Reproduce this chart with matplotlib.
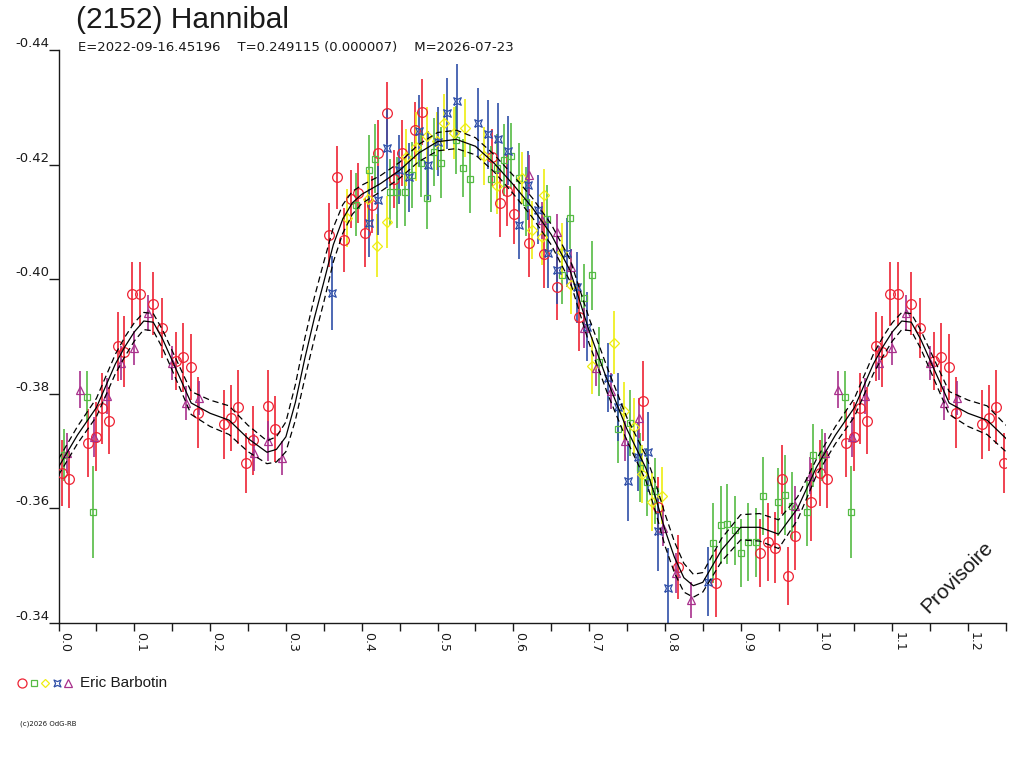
import numpy as np
import matplotlib
matplotlib.use("Agg")
import matplotlib.pyplot as plt

# colours of the five sessions
C_RED = "#EE2233"
C_GREEN = "#55BB44"
C_YELLOW = "#EEEE11"
C_BLUE = "#2F4FA8"
C_PURPLE = "#A8308C"

TITLE = "(2152) Hannibal"
SUBTITLE = "E=2022-09-16.45196    T=0.249115 (0.000007)    M=2026-07-23"
OBSERVER = "Eric Barbotin"

# fitted curve (phase 0..1) and its half width
CURVE_PHASE = [0.000, 0.025, 0.050, 0.075, 0.0875, 0.100, 0.1125, 0.125, 0.1375, 0.150,
               0.175, 0.200, 0.225, 0.250, 0.275, 0.2875, 0.300, 0.3125, 0.325, 0.3375,
               0.350, 0.3625, 0.375, 0.3875, 0.400, 0.425, 0.450, 0.475, 0.500, 0.525,
               0.550, 0.575, 0.600, 0.625, 0.650, 0.675, 0.700, 0.725, 0.750, 0.775,
               0.7875, 0.800, 0.8125, 0.825, 0.8375, 0.850, 0.875, 0.900, 0.925, 0.950,
               0.975, 1.000]
CURVE_MAG = [-0.3672, -0.3728, -0.3776, -0.3852, -0.3882, -0.3908, -0.3927, -0.3925, -0.3895, -0.3858,
             -0.3784, -0.3766, -0.3754, -0.3722, -0.3698, -0.3703, -0.3725, -0.3785, -0.3862, -0.3932,
             -0.3995, -0.4060, -0.4105, -0.4133, -0.4148, -0.4167, -0.4190, -0.4220, -0.4240, -0.4244,
             -0.4232, -0.4202, -0.4165, -0.4125, -0.4078, -0.4015, -0.3910, -0.3820, -0.3738, -0.3670,
             -0.3620, -0.3563, -0.3515, -0.3479, -0.3465, -0.3471, -0.3528, -0.3567, -0.3567, -0.3555,
             -0.3600, -0.3672]
CURVE_BAND = [0.0014, 0.0015, 0.0016, 0.0017, 0.0017, 0.0016, 0.0015, 0.0015, 0.0016, 0.0017,
              0.0020, 0.0023, 0.0025, 0.0023, 0.0020, 0.0022, 0.0026, 0.0031, 0.0035, 0.0036,
              0.0035, 0.0030, 0.0025, 0.0020, 0.0016, 0.0014, 0.0014, 0.0015, 0.0016, 0.0016,
              0.0015, 0.0015, 0.0016, 0.0017, 0.0018, 0.0019, 0.0022, 0.0022, 0.0020, 0.0022,
              0.0025, 0.0028, 0.0027, 0.0025, 0.0020, 0.0017, 0.0020, 0.0022, 0.0024, 0.0025,
              0.0020, 0.0014]

RED_PHASE = [0.004, 0.014, 0.039, 0.050, 0.058, 0.067, 0.078, 0.087, 0.097, 0.107,
             0.125, 0.136, 0.155, 0.164, 0.175, 0.184, 0.218, 0.228, 0.237, 0.247,
             0.257, 0.276, 0.286, 0.357, 0.367, 0.376, 0.386, 0.395, 0.404, 0.414,
             0.422, 0.433, 0.443, 0.453, 0.470, 0.480, 0.572, 0.583, 0.592, 0.601,
             0.621, 0.641, 0.658, 0.687, 0.771, 0.791, 0.817, 0.867, 0.925, 0.936,
             0.945, 0.954, 0.963, 0.972, 0.993]
RED_MAG = [-0.3662, -0.3651, -0.3714, -0.3725, -0.3775, -0.3753, -0.3883, -0.3873, -0.3974, -0.3974,
           -0.3957, -0.3915, -0.3857, -0.3864, -0.3847, -0.3767, -0.3747, -0.3758, -0.3777, -0.3679,
           -0.3719, -0.3779, -0.3739, -0.4077, -0.4178, -0.4068, -0.4140, -0.4150, -0.4081, -0.4130,
           -0.4220, -0.4290, -0.4175, -0.4220, -0.4260, -0.4292, -0.4213, -0.4133, -0.4154, -0.4114,
           -0.4063, -0.4044, -0.3986, -0.3934, -0.3788, -0.3603, -0.3498, -0.3470, -0.3522, -0.3541,
           -0.3531, -0.3651, -0.3482, -0.3552, -0.3611]
RED_ERR = [0.0058, 0.0050, 0.0060, 0.0060, 0.0062, 0.0058, 0.0060, 0.0062, 0.0056, 0.0056,
           0.0055, 0.0052, 0.0050, 0.0060, 0.0058, 0.0062, 0.0060, 0.0058, 0.0065, 0.0052,
           0.0060, 0.0062, 0.0058, 0.0056, 0.0055, 0.0056, 0.0050, 0.0052, 0.0060, 0.0050,
           0.0058, 0.0054, 0.0050, 0.0058, 0.0050, 0.0058, 0.0050, 0.0060, 0.0062, 0.0052,
           0.0060, 0.0060, 0.0058, 0.0060, 0.0070, 0.0052, 0.0056, 0.0060, 0.0060, 0.0068,
           0.0062, 0.0060, 0.0050, 0.0060, 0.0068]

GREEN_PHASE = [0.007, 0.037, 0.045, 0.392, 0.409, 0.418, 0.437, 0.446, 0.457, 0.467,
               0.478, 0.486, 0.496, 0.505, 0.525, 0.533, 0.543, 0.570, 0.578, 0.588,
               0.597, 0.608, 0.617, 0.645, 0.664, 0.675, 0.693, 0.704, 0.713, 0.738,
               0.754, 0.767, 0.776, 0.787, 0.863, 0.874, 0.882, 0.892, 0.901, 0.909,
               0.920, 0.929, 0.949, 0.959, 0.968, 0.987, 0.996]
GREEN_MAG = [-0.3693, -0.3795, -0.3594, -0.4130, -0.4191, -0.4210, -0.4152, -0.4152, -0.4152, -0.4182,
             -0.4203, -0.4142, -0.4222, -0.4203, -0.4243, -0.4194, -0.4175, -0.4175, -0.4194, -0.4208,
             -0.4215, -0.4177, -0.4135, -0.4105, -0.4007, -0.4107, -0.3967, -0.4007, -0.3856, -0.3739,
             -0.3749, -0.3671, -0.3646, -0.3630, -0.3540, -0.3571, -0.3573, -0.3562, -0.3522, -0.3541,
             -0.3541, -0.3622, -0.3611, -0.3623, -0.3604, -0.3594, -0.3693]
GREEN_ERR = [0.0045, 0.0045, 0.0080, 0.0055, 0.0060, 0.0060, 0.0058, 0.0062, 0.0060, 0.0058,
             0.0060, 0.0055, 0.0060, 0.0062, 0.0060, 0.0050, 0.0060, 0.0058, 0.0060, 0.0062,
             0.0058, 0.0060, 0.0060, 0.0060, 0.0050, 0.0055, 0.0060, 0.0060, 0.0060, 0.0060,
             0.0058, 0.0060, 0.0060, 0.0058, 0.0070, 0.0068, 0.0070, 0.0060, 0.0060, 0.0068,
             0.0060, 0.0068, 0.0060, 0.0070, 0.0060, 0.0060, 0.0055]

YELLOW_PHASE = [0.380, 0.408, 0.420, 0.433, 0.458, 0.471, 0.486, 0.499, 0.509, 0.522,
                0.536, 0.562, 0.578, 0.612, 0.625, 0.638, 0.641, 0.664, 0.676, 0.704,
                0.733, 0.746, 0.759, 0.770, 0.783, 0.796]
YELLOW_MAG = [-0.4107, -0.4140, -0.4058, -0.4100, -0.4213, -0.4231, -0.4250, -0.4241, -0.4273, -0.4255,
              -0.4264, -0.4215, -0.4163, -0.4177, -0.4086, -0.4074, -0.4147, -0.4048, -0.3990, -0.3849,
              -0.3889, -0.3770, -0.3742, -0.3660, -0.3611, -0.3622]
YELLOW_ERR = [0.0050, 0.0050, 0.0055, 0.0045, 0.0050, 0.0060, 0.0050, 0.0050, 0.0050, 0.0045,
              0.0050, 0.0050, 0.0050, 0.0045, 0.0050, 0.0050, 0.0045, 0.0050, 0.0050, 0.0050,
              0.0055, 0.0050, 0.0050, 0.0050, 0.0050, 0.0050]

BLUE_PHASE = [0.361, 0.409, 0.421, 0.434, 0.449, 0.462, 0.475, 0.488, 0.500, 0.513,
              0.526, 0.554, 0.567, 0.580, 0.593, 0.607, 0.620, 0.633, 0.646, 0.658,
              0.671, 0.684, 0.697, 0.725, 0.738, 0.751, 0.764, 0.778, 0.791, 0.804,
              0.857]
BLUE_MAG = [-0.3976, -0.4098, -0.4138, -0.4229, -0.4191, -0.4178, -0.4259, -0.4199, -0.4240, -0.4290,
            -0.4311, -0.4273, -0.4253, -0.4245, -0.4224, -0.4095, -0.4164, -0.4121, -0.4046, -0.4016,
            -0.4046, -0.3986, -0.3917, -0.3828, -0.3777, -0.3648, -0.3690, -0.3699, -0.3561, -0.3461,
            -0.3472]
BLUE_ERR = [0.0065, 0.0060, 0.0060, 0.0070, 0.0060, 0.0060, 0.0062, 0.0060, 0.0060, 0.0062,
            0.0065, 0.0060, 0.0060, 0.0062, 0.0060, 0.0060, 0.0060, 0.0060, 0.0062, 0.0060,
            0.0060, 0.0062, 0.0060, 0.0060, 0.0060, 0.0070, 0.0060, 0.0070, 0.0070, 0.0070,
            0.0060]

PURPLE_PHASE = [0.011, 0.028, 0.047, 0.064, 0.082, 0.100, 0.118, 0.150, 0.168, 0.186,
                0.258, 0.276, 0.295, 0.621, 0.638, 0.657, 0.676, 0.693, 0.709, 0.729,
                0.747, 0.766, 0.797, 0.814, 0.834, 0.971, 0.992]
PURPLE_MAG = [-0.3697, -0.3807, -0.3725, -0.3796, -0.3854, -0.3880, -0.3941, -0.3854, -0.3784, -0.3793,
              -0.3697, -0.3718, -0.3688, -0.4182, -0.4103, -0.4082, -0.4021, -0.3915, -0.3845, -0.3805,
              -0.3718, -0.3758, -0.3566, -0.3487, -0.3440, -0.3604, -0.3657]
PURPLE_ERR = [0.0035, 0.0032, 0.0035, 0.0032, 0.0030, 0.0030, 0.0032, 0.0030, 0.0030, 0.0030,
              0.0032, 0.0035, 0.0030, 0.0035, 0.0032, 0.0032, 0.0032, 0.0035, 0.0032, 0.0032,
              0.0035, 0.0035, 0.0032, 0.0035, 0.0032, 0.0035, 0.0032]

XMAX = 1.25
YTICKS = [-0.44, -0.42, -0.40, -0.38, -0.36, -0.34]
TXT = "#1a1a1a"

# square with pinched sides, like the blue symbol
STAR4 = [(-1, -1), (0, -0.55), (1, -1), (0.55, 0), (1, 1), (0, 0.55), (-1, 1), (-0.55, 0), (-1, -1)]


def fold(phase, *cols):
    # repeat the start of the cycle after phase 1
    ph = np.asarray(phase, float)
    rep = ph + 1.0 <= XMAX + 1e-9
    out = [np.concatenate([ph, ph[rep] + 1.0])]
    for c in cols:
        c = np.asarray(c, float)
        out.append(np.concatenate([c, c[rep]]))
    return out


W, H = 1024, 768
fig = plt.figure(figsize=(W / 100, H / 100), dpi=100)
L, R, T, B = 58.5, 1006, 50, 623
ax = fig.add_axes([L / W, 1 - B / H, (R - L) / W, (B - T) / H])
ax.set_xlim(0, XMAX)
ax.set_ylim(-0.34, -0.44)

series = [
    (RED_PHASE, RED_MAG, RED_ERR, C_RED, "o", 7.0),
    (GREEN_PHASE, GREEN_MAG, GREEN_ERR, C_GREEN, "s", 5.0),
    (YELLOW_PHASE, YELLOW_MAG, YELLOW_ERR, C_YELLOW, "D", 4.8),
    (BLUE_PHASE, BLUE_MAG, BLUE_ERR, C_BLUE, STAR4, 5.4),
    (PURPLE_PHASE, PURPLE_MAG, PURPLE_ERR, C_PURPLE, "^", 6.4),
]
for ph, mag, err, col, mk, ms in series:
    p, m, e = fold(ph, mag, err)
    ax.errorbar(p, m, yerr=e, fmt="none", ecolor=col, elinewidth=1.2, capsize=0, zorder=2)
    ax.plot(p, m, ls="none", marker=mk, ms=ms, mfc="none", mec=col, mew=0.9, zorder=3)

cp, cm, cb = fold(CURVE_PHASE[:-1], CURVE_MAG[:-1], CURVE_BAND[:-1])
order = np.argsort(cp)
cp, cm, cb = cp[order], cm[order], cb[order]
ax.plot(cp, cm, color="black", lw=0.9, zorder=4)
ax.plot(cp, cm - cb, color="black", lw=0.9, ls=(0, (5, 3)), zorder=4)
ax.plot(cp, cm + cb, color="black", lw=0.9, ls=(0, (5, 3)), zorder=4)

for s in ["top", "right"]:
    ax.spines[s].set_visible(False)
for s in ["left", "bottom"]:
    ax.spines[s].set_linewidth(1.0)
    ax.spines[s].set_color(TXT)

major = [i / 10 for i in range(13)]
ax.set_xticks(major)
ax.set_xticks([0.05 + i / 10 for i in range(12)] + [XMAX], minor=True)
ax.set_xticklabels([f"{v:.1f}" for v in major], rotation=270, ha="left", va="top",
                   fontsize=9, family="DejaVu Sans", color=TXT)
ax.tick_params(axis="x", which="both", direction="out", length=5.8, width=1.0, pad=1, color=TXT)

ax.set_yticks(YTICKS)
ax.set_yticklabels([])
ax.tick_params(axis="y", direction="out", length=7.2, width=1.0, color=TXT)
for v in YTICKS:
    ax.text(-9.5 / (R - L), v, f"{v:.2f}", transform=ax.get_yaxis_transform(),
            ha="right", va="bottom", fontsize=9.5, family="DejaVu Sans", color=TXT)

fig.text(76 / W, 1 - 20 / H, TITLE, fontsize=21.5, family="Liberation Sans",
         va="center", ha="left", color=TXT)
fig.text(78 / W, 1 - 47 / H, SUBTITLE, fontsize=9.5, family="DejaVu Sans",
         va="center", ha="left", color=TXT)

# legend row
leg_marks = [("o", C_RED, 6.5, 22), ("s", C_GREEN, 4.6, 34), ("D", C_YELLOW, 4.4, 45),
             (STAR4, C_BLUE, 5.0, 57), ("^", C_PURPLE, 6.0, 68)]
for mk, col, ms, xp in leg_marks:
    ax.plot([xp / W], [1 - 683 / H], marker=mk, ms=ms, mfc="none", mec=col, mew=0.9,
            ls="none", transform=fig.transFigure, clip_on=False)
fig.text(80 / W, 1 - 683 / H, OBSERVER, fontsize=11, family="Liberation Sans",
         va="center", ha="left", color=TXT)

fig.text(20 / W, 1 - 724 / H, "(c)2026 OdG-RB", fontsize=5, family="DejaVu Sans",
         va="center", ha="left", color=TXT)

fig.text(957 / W, 1 - 577 / H, "Provisoire", rotation=45, fontsize=15,
         family="Liberation Sans", ha="center", va="center", color=TXT)

fig.savefig("out.png", dpi=100)
